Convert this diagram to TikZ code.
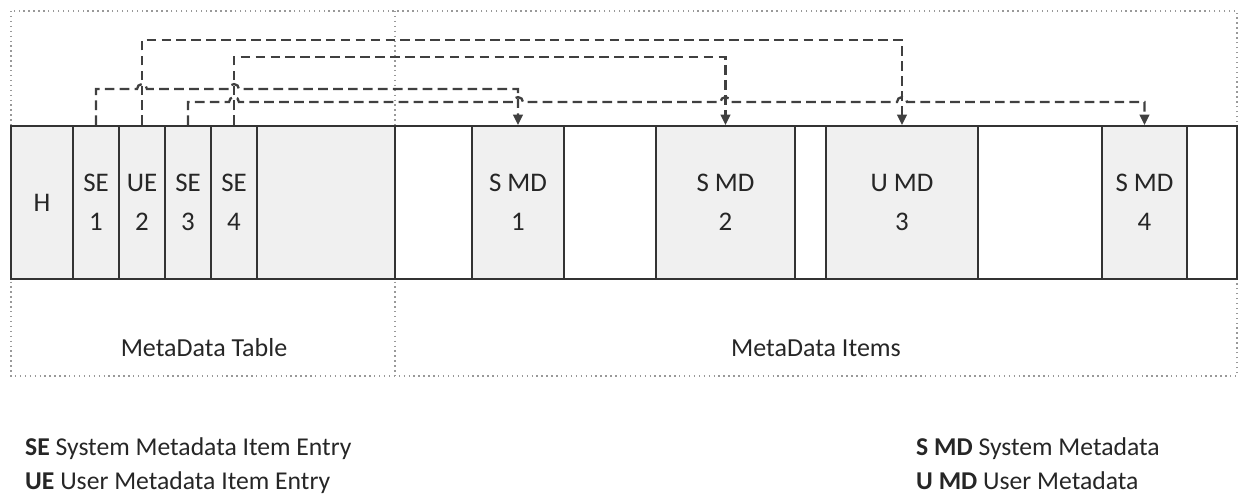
\documentclass[tikz,border=0pt]{standalone}
\usepackage{fontspec}
\setmainfont{Carlito}
\usetikzlibrary{arrows.meta,calc}
\newcommand{\hop}[1]{-- ($(#1)+(-5,0)$) arc[start angle=180,end angle=0,radius=0.1cm]}

\begin{document}
\begin{tikzpicture}[x=0.02cm,y=-0.02cm,
	cell/.style={draw=black!80, line width=1.1pt, fill=black!6, minimum height=3.06cm, inner sep=0pt, align=center, text=black!85, font=\fontsize{15.3}{22}\selectfont},
	void/.style={cell, fill=white},
	link/.style={draw=black!75, line width=1.3pt, dash pattern=on 5.5pt off 3pt, -{Triangle[length=6pt,width=5.5pt]}},
	zoneframe/.style={draw=black!40, dotted, line width=0.8pt},
	zonetext/.style={font=\fontsize{14.8}{17}\selectfont, text=black!85, anchor=base},
	keytext/.style={font=\fontsize{14.6}{17}\selectfont, text=black!85, anchor=base west}]
			%%%%% START %%%%%
			\useasboundingbox (0,0) rectangle (1239,499);
			
			\draw[zoneframe] (11,11) rectangle (1237,376);
			\draw[zoneframe] (395,11) -- (395,376);
			
			% metadata table
			\node[cell, minimum width=1.24cm] (hdr) at (42,202.5) {H};
			\node[cell, minimum width=0.92cm] (se1) at (96,202.5) {SE\\1};
			\node[cell, minimum width=0.92cm] (ue2) at (142,202.5) {UE\\2};
			\node[cell, minimum width=0.92cm] (se3) at (188,202.5) {SE\\3};
			\node[cell, minimum width=0.92cm] (se4) at (234,202.5) {SE\\4};
			\node[cell, minimum width=2.76cm] (tblrest) at (326,202.5) {};
			
			% metadata items
			\node[void, minimum width=1.54cm] (gapa) at (433.5,202.5) {};
			\node[cell, minimum width=1.84cm] (smd1) at (518,202.5) {S MD\\1};
			\node[void, minimum width=1.84cm] (gapb) at (610,202.5) {};
			\node[cell, minimum width=2.78cm] (smd2) at (725.5,202.5) {S MD\\2};
			\node[void, minimum width=0.62cm] (gapc) at (810.5,202.5) {};
			\node[cell, minimum width=3.04cm] (umd3) at (902,202.5) {U MD\\3};
			\node[void, minimum width=2.48cm] (gapd) at (1040,202.5) {};
			\node[cell, minimum width=1.70cm] (smd4) at (1144.5,202.5) {S MD\\4};
			\node[void, minimum width=1.00cm] (gape) at (1212,202.5) {};
			
			% entries point to items
			\draw[link] (ue2.north) -- ++(0,-85) -| (umd3.north);
			\draw[link] (se4.north) -- ++(0,-68) -| (smd2.north);
			\draw[link] (se1.north) -- ++(0,-36) coordinate (lvla) \hop{ue2.north |- lvla} \hop{se4.north |- lvla} -| (smd1.north);
			\draw[link] (se3.north) -- ++(0,-23) coordinate (lvlb) \hop{se4.north |- lvlb} \hop{smd1.north |- lvlb} \hop{smd2.north |- lvlb} \hop{umd3.north |- lvlb} -| (smd4.north);
			
			\node[zonetext] (tbllabel) at (204,357) {MetaData Table};
			\node[zonetext] (itemlabel) at (816,357) {MetaData Items};
			
			% key
			\node[keytext] (keyse) at (19,455) {\textbf{SE} System Metadata Item Entry};
			\node[keytext] (keyue) at (19,489) {\textbf{UE} User Metadata Item Entry};
			\node[keytext] (keysmd) at (910,455) {\textbf{S MD} System Metadata};
			\node[keytext] (keyumd) at (910,489) {\textbf{U MD} User Metadata};
			%%%%% END %%%%%
\end{tikzpicture}
\end{document}
